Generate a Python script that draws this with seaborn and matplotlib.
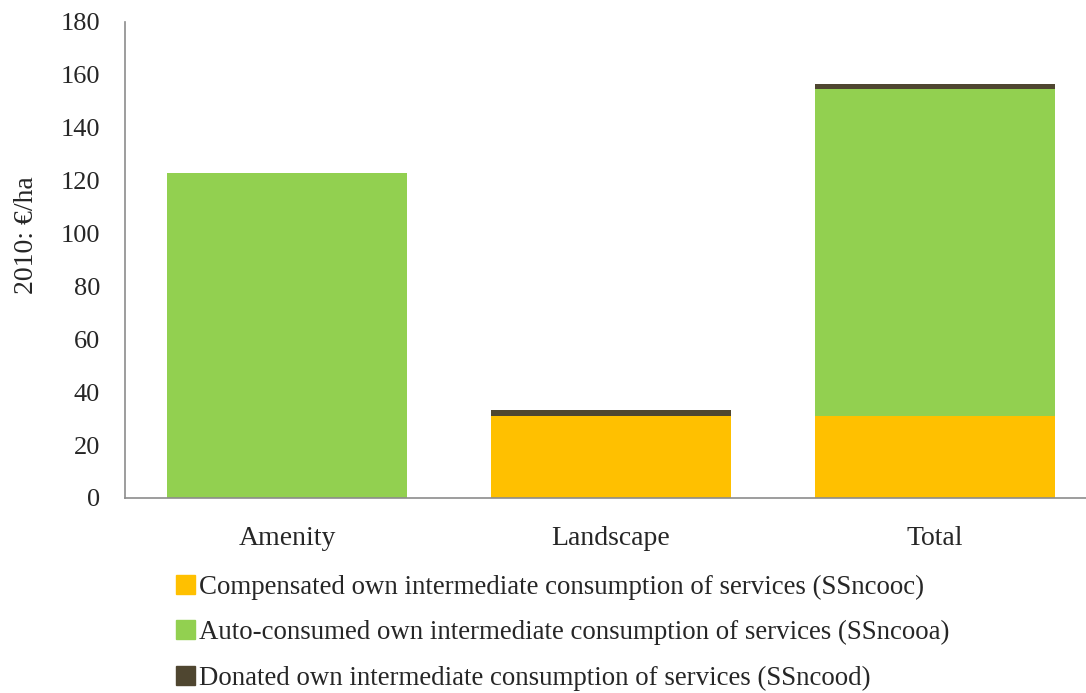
import matplotlib
matplotlib.use("Agg")
import matplotlib.pyplot as plt
import matplotlib.patches as mpatches
import seaborn as sns
import pandas as pd
import numpy as np

# data
categories = ["Amenity", "Landscape", "Total"]
compensated = [0, 31, 31]
auto_consumed = [123, 0, 123.5]
donated = [0, 2.2, 2.2]

series_names = [
    "Compensated own intermediate consumption of services (SSncooc)",
    "Auto-consumed own intermediate consumption of services (SSncooa)",
    "Donated own intermediate consumption of services (SSncood)",
]
colors = ["#FFC000", "#92D050", "#4F4630"]

sns.set_theme(style="white")
plt.rcParams["font.family"] = ["Liberation Serif", "DejaVu Serif"]

fig = plt.figure(figsize=(10.86, 6.93), dpi=100)
ax = fig.add_axes([125 / 1086, 1 - 498 / 693, (1086 - 125) / 1086, 476 / 693])

df = pd.DataFrame({"cat": categories, "comp": compensated,
                   "auto": auto_consumed, "don": donated})

bottom = np.zeros(len(categories))
for col, color in zip(["comp", "auto", "don"], colors):
    sns.barplot(data=df, x="cat", y=col, color=color, width=0.74,
                bottom=bottom, ax=ax, saturation=1, linewidth=0)
    bottom = bottom + df[col].to_numpy()

ax.set_ylim(0, 180)
ax.set_yticks(range(0, 181, 20))
ax.set_xlim(-0.5, 2.5 - 11 / 325)
ax.set_xlabel("")
ax.set_ylabel("2010: €/ha", fontsize=20)
ax.yaxis.set_label_coords(-0.089, 0.553)
ax.tick_params(axis="both", length=0, labelsize=19)
ax.tick_params(axis="x", labelsize=20, pad=20)
ax.tick_params(axis="y", pad=18)

for side in ["top", "right"]:
    ax.spines[side].set_visible(False)
for side in ["left", "bottom"]:
    ax.spines[side].set_color("#8c8c8c")
    ax.spines[side].set_linewidth(1.2)

handles = [mpatches.Patch(color=c, label=n) for c, n in zip(colors, series_names)]
fig.legend(handles=handles, loc="upper left", bbox_to_anchor=(165 / 1086, 1 - 564 / 693),
           frameon=False, fontsize=19.4, handlelength=0.7, handleheight=0.7,
           handletextpad=0.15, labelspacing=0.75, borderaxespad=0)

fig.savefig("out.png", dpi=100)
